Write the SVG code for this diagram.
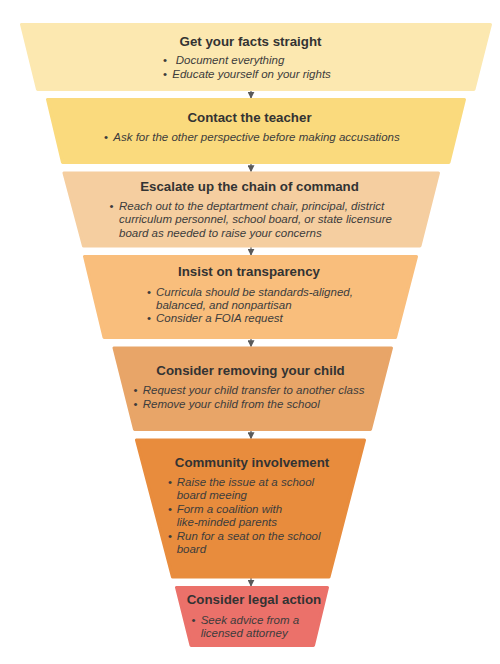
<svg xmlns="http://www.w3.org/2000/svg" width="500" height="664" viewBox="0 0 500 664">
<defs>
<marker id="ah" viewBox="0 0 10 10" refX="9" refY="5" markerWidth="7" markerHeight="7" orient="auto" markerUnits="userSpaceOnUse">
<path d="M0,0 L10,5 L0,10 z" fill="#5a5a5a"/>
</marker>
<style>
.sh{stroke-width:3;stroke-linejoin:round}
.t{font-family:"Liberation Sans",Arial,sans-serif;font-weight:bold;font-size:13.3px;fill:#333;text-anchor:middle}
.b{font-family:"Liberation Sans",Arial,sans-serif;font-style:italic;font-size:11.5px;fill:#3c3c3c}
.d{font-family:"Liberation Sans",Arial,sans-serif;font-size:11.5px;fill:#3c3c3c}
.c{stroke:#5a5a5a;stroke-width:1.2;fill:none}
</style>
</defs>
<rect width="500" height="664" fill="#fff"/>
<g id="connectors">
<line class="c" x1="251" y1="88" x2="251" y2="98" marker-end="url(#ah)"/>
<line class="c" x1="251" y1="162" x2="251" y2="171.5" marker-end="url(#ah)"/>
<line class="c" x1="251" y1="245" x2="251" y2="255" marker-end="url(#ah)"/>
<line class="c" x1="251" y1="337" x2="251" y2="346.5" marker-end="url(#ah)"/>
<line class="c" x1="251" y1="429" x2="251" y2="438.5" marker-end="url(#ah)"/>
<line class="c" x1="251" y1="576" x2="251" y2="586" marker-end="url(#ah)"/>
</g>
<g id="n1">
<polygon class="sh" fill="#FCE8B0" stroke="#FCE8B0" points="21.5,24.5 490.5,24.5 474,89.5 37.5,89.5"/>
<text class="t" x="250.5" y="45.5">Get your facts straight</text>
<text class="d" x="163" y="64">•</text><text class="b" x="175.7" y="64">Document everything</text>
<text class="d" x="163" y="77.5">•</text><text class="b" x="172.3" y="77.5">Educate yourself on your rights</text>
</g>
<g id="n2">
<polygon class="sh" fill="#FADA7D" stroke="#FADA7D" points="47.5,99.5 464.5,99.5 449,162.5 62.5,162.5"/>
<text class="t" x="249.5" y="122">Contact the teacher</text>
<text class="d" x="104" y="140.5">•</text><text class="b" x="113.3" y="140.5">Ask for the other perspective before making accusations</text>
</g>
<g id="n3">
<polygon class="sh" fill="#F5CEA0" stroke="#F5CEA0" points="64,173 438.5,173 420,246 83.5,246"/>
<text class="t" x="249.5" y="190.5">Escalate up the chain of command</text>
<text class="d" x="109.5" y="210">•</text>
<text class="b" x="119" y="210">Reach out to the deptartment chair, principal, district</text>
<text class="b" x="119" y="223.3">curriculum personnel, school board, or state licensure</text>
<text class="b" x="119" y="236.7">board as needed to raise your concerns</text>
</g>
<g id="n4">
<polygon class="sh" fill="#F9BE7C" stroke="#F9BE7C" points="84.5,256.5 416.5,256.5 395.5,337.5 104,337.5"/>
<text class="t" x="249" y="276">Insist on transparency</text>
<text class="d" x="147" y="295.7">•</text>
<text class="b" x="156" y="295.7">Curricula should be standards-aligned,</text>
<text class="b" x="156" y="309">balanced, and nonpartisan</text>
<text class="d" x="147" y="322.3">•</text>
<text class="b" x="156" y="322.3">Consider a FOIA request</text>
</g>
<g id="n5">
<polygon class="sh" fill="#E8A568" stroke="#E8A568" points="114,348 391.5,348 370.5,429.5 134.5,429.5"/>
<text class="t" x="250.5" y="374.5">Consider removing your child</text>
<text class="d" x="133.5" y="394.3">•</text>
<text class="b" x="142.7" y="394.3">Request your child transfer to another class</text>
<text class="d" x="133.5" y="407.7">•</text>
<text class="b" x="142.7" y="407.7">Remove your child from the school</text>
</g>
<g id="n6">
<polygon class="sh" fill="#E88C3D" stroke="#E88C3D" points="136.5,440 364.5,440 329,577 172.5,577"/>
<text class="t" x="252" y="467">Community involvement</text>
<text class="d" x="168" y="485.7">•</text>
<text class="b" x="176.7" y="485.7">Raise the issue at a school</text>
<text class="b" x="176.7" y="499">board meeing</text>
<text class="d" x="168" y="513">•</text>
<text class="b" x="176.7" y="513">Form a coalition with</text>
<text class="b" x="176.7" y="526.3">like-minded parents</text>
<text class="d" x="168" y="539.7">•</text>
<text class="b" x="176.7" y="539.7">Run for a seat on the school</text>
<text class="b" x="176.7" y="553">board</text>
</g>
<g id="n7">
<polygon class="sh" fill="#EB716A" stroke="#EB716A" points="176.5,587.5 327.5,587.5 313.5,645.5 191,645.5"/>
<text class="t" x="254" y="604">Consider legal action</text>
<text class="d" x="191.5" y="624">•</text>
<text class="b" x="200.7" y="624">Seek advice from a</text>
<text class="b" x="200.7" y="636.5">licensed attorney</text>
</g>
</svg>
